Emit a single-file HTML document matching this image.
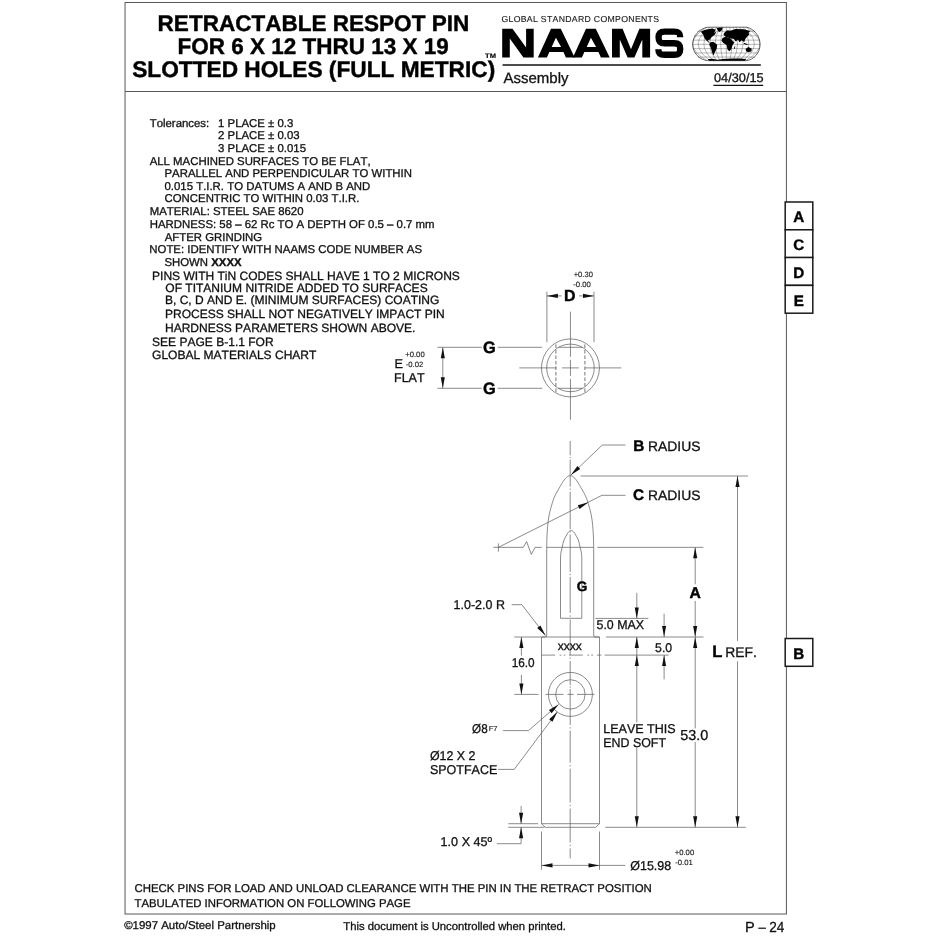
<!DOCTYPE html>
<html><head><meta charset="utf-8"><title>NAAMS Retractable Respot Pin</title>
<style>
html,body{margin:0;padding:0;background:#fff;}
body{width:940px;height:940px;overflow:hidden;font-family:"Liberation Sans",sans-serif;}
svg{display:block;position:absolute;left:0;top:0;will-change:transform;}
svg text{font-family:"Liberation Sans",sans-serif;white-space:pre;font-kerning:none;text-rendering:geometricPrecision;}
</style></head><body>
<svg width="940" height="940" viewBox="0 0 940 940">
<rect x="0" y="0" width="940" height="940" fill="#fff"/>

<rect x="125.05" y="2.5" width="661.35" height="911.50" fill="none" stroke="#585858" stroke-width="1"/>
<line x1="125.05" y1="91.50" x2="786.40" y2="91.50" stroke="#585858" stroke-width="1" />
<text x="157.6" y="30.9" font-size="22.5" font-weight="bold" textLength="311.6" lengthAdjust="spacingAndGlyphs" fill="#000" stroke="#000" stroke-width="0.4" >RETRACTABLE RESPOT PIN</text>
<text x="177.6" y="53.7" font-size="22.5" font-weight="bold" textLength="271.2" lengthAdjust="spacingAndGlyphs" fill="#000" stroke="#000" stroke-width="0.4" >FOR 6 X 12 THRU 13 X 19</text>
<text x="132.2" y="76.6" font-size="22.5" font-weight="bold" textLength="363" lengthAdjust="spacingAndGlyphs" fill="#000" stroke="#000" stroke-width="0.4" >SLOTTED HOLES (FULL METRIC)</text>
<text x="485.1" y="57.7" font-size="6.5" font-weight="bold" textLength="10.9" lengthAdjust="spacingAndGlyphs" fill="#000" stroke="#000" stroke-width="0.15" >TM</text>
<text x="501.4" y="21.9" font-size="8.7" textLength="157.6" lengthAdjust="spacing" fill="#1a1a1a" stroke="#1a1a1a" stroke-width="0.12">GLOBAL STANDARD COMPONENTS</text>
<path fill="#000" d="M502.2,28.7 L512.5,28.7 L526.1,47.6 L526.1,28.7 L533.7,28.7 L533.7,57.4 L523.4,57.4 L509.8,38.5 L509.8,57.4 L502.2,57.4 Z"/>
<path fill="#000" fill-rule="evenodd" d="M551.0,28.7 L560.8,28.7 L574.7,57.4 L565.9,57.4 L563.44,52.0 L549.36,52.0 L546.9,57.4 L537.9,57.4 Z M555.90,37.68 L561.11,46.9 L551.69,46.9 Z"/>
<path fill="#000" fill-rule="evenodd" d="M586.0,28.7 L595.8,28.7 L609.7,57.4 L600.9,57.4 L598.44,52.0 L584.36,52.0 L581.9,57.4 L572.9,57.4 Z M590.90,37.68 L596.11,46.9 L586.69,46.9 Z"/>
<path fill="#000" d="M612.0,57.4 L612.0,28.7 L622.6,28.7 L631.0,49.2 L639.4,28.7 L650.1,28.7 L650.1,57.4 L642.3,57.4 L642.3,39.5 L634.4,57.4 L627.6,57.4 L619.8,39.5 L619.8,57.4 Z"/>
<path fill="none" stroke="#000" stroke-width="6.4" d="M680.2,37.2 C680.2,32.5 678.5,31.6 674,31.6 L664.6,31.6 C659.4,31.6 658.6,33.6 658.6,37.4 C658.6,41.4 659.6,43.3 664.6,43.3 L674.2,43.3 C678.8,43.3 680.2,45 680.2,49 C680.2,53 678.8,54.8 674.2,54.8 L664.4,54.8 C659.6,54.8 658.4,53.4 658.4,49.2"/>
<line x1="502.60" y1="65.10" x2="760.80" y2="65.10" stroke="#111" stroke-width="1.5" />
<text x="503.5" y="82.8" font-size="15" fill="#111" stroke="#111" stroke-width="0.3" >Assembly</text>
<text x="714.0" y="81.6" font-size="12.7" textLength="49.6" lengthAdjust="spacingAndGlyphs" fill="#111" stroke="#111" stroke-width="0.3" >04/30/15</text>
<line x1="713.40" y1="85.40" x2="763.20" y2="85.40" stroke="#111" stroke-width="1.2" />
<g id="globe" transform="translate(685,15) scale(0.09043)">
<path d="M250,135 L680,135 C760,150 830,230 830,325 C830,420 760,495 680,505 L250,505 C160,495 85,420 85,325 C85,230 160,150 250,135 Z" fill="#fff" stroke="#111" stroke-width="7"/>
<line x1="136" y1="180" x2="778" y2="180" stroke="#222" stroke-width="3.6"/>
<line x1="102" y1="230" x2="812" y2="230" stroke="#222" stroke-width="3.6"/>
<line x1="88" y1="278" x2="826" y2="278" stroke="#222" stroke-width="3.6"/>
<line x1="85" y1="325" x2="829" y2="325" stroke="#222" stroke-width="3.6"/>
<line x1="90" y1="372" x2="824" y2="372" stroke="#222" stroke-width="3.6"/>
<line x1="107" y1="420" x2="807" y2="420" stroke="#222" stroke-width="3.6"/>
<line x1="141" y1="465" x2="773" y2="465" stroke="#222" stroke-width="3.6"/>
<path d="M242,135 Q-72,320 242,505" fill="none" stroke="#222" stroke-width="3.6"/>
<path d="M278,135 Q16,320 278,505" fill="none" stroke="#222" stroke-width="3.6"/>
<path d="M314,135 Q104,320 314,505" fill="none" stroke="#222" stroke-width="3.6"/>
<path d="M350,135 Q192,320 350,505" fill="none" stroke="#222" stroke-width="3.6"/>
<path d="M385,135 Q281,320 385,505" fill="none" stroke="#222" stroke-width="3.6"/>
<path d="M421,135 Q369,320 421,505" fill="none" stroke="#222" stroke-width="3.6"/>
<line x1="457" y1="135" x2="457" y2="505" stroke="#222" stroke-width="3.6"/>
<path d="M493,135 Q545,320 493,505" fill="none" stroke="#222" stroke-width="3.6"/>
<path d="M529,135 Q633,320 529,505" fill="none" stroke="#222" stroke-width="3.6"/>
<path d="M564,135 Q722,320 564,505" fill="none" stroke="#222" stroke-width="3.6"/>
<path d="M600,135 Q810,320 600,505" fill="none" stroke="#222" stroke-width="3.6"/>
<path d="M636,135 Q898,320 636,505" fill="none" stroke="#222" stroke-width="3.6"/>
<path d="M672,135 Q986,320 672,505" fill="none" stroke="#222" stroke-width="3.6"/>
<path d="M175,185 L215,165 L300,150 L340,162 L322,198 L348,182 L332,216 L292,246 L277,270 L252,278 L268,300 L285,305 L262,305 L240,286 L215,256 L200,216 Z" fill="#000"/>
<path d="M350,145 L420,138 L405,172 L378,188 L360,170 Z" fill="#000"/>
<path d="M275,305 L312,295 L356,330 L350,372 L326,420 L316,448 L302,420 L286,362 L270,330 Z" fill="#000"/>
<path d="M440,190 L470,170 L500,175 L560,155 L650,158 L722,176 L702,200 L712,215 L692,236 L668,262 L655,298 L640,290 L628,278 L602,302 L586,270 L562,292 L540,266 L500,256 L470,250 L440,236 L425,214 Z" fill="#000"/>
<path d="M415,255 L446,240 L500,256 L530,290 L548,300 L526,332 L512,380 L490,402 L470,382 L460,332 L420,306 L404,282 Z" fill="#000"/>
<path d="M670,376 L700,354 L736,370 L736,400 L702,412 L676,402 Z" fill="#000"/>
<path d="M648,308 L682,318 L700,332 L676,330 L652,320 Z" fill="#000"/>
<path d="M545,350 L555,345 L552,372 L542,376 Z" fill="#000"/>
<path d="M250,490 L300,484 L360,494 L420,486 L520,480 L620,482 L680,490 L660,505 L270,505 Z" fill="#000"/>
</g>
<rect x="785.2" y="202.0" width="27.6" height="27.8" fill="#fff" stroke="#1a1a1a" stroke-width="1.5"/>
<text x="798.8" y="222.4" font-size="15.2" font-weight="bold" text-anchor="middle" fill="#000" stroke="#000" stroke-width="0.4" >A</text>
<rect x="785.2" y="229.8" width="27.6" height="27.8" fill="#fff" stroke="#1a1a1a" stroke-width="1.5"/>
<text x="798.8" y="250.20000000000002" font-size="15.2" font-weight="bold" text-anchor="middle" fill="#000" stroke="#000" stroke-width="0.4" >C</text>
<rect x="785.2" y="257.5" width="27.6" height="27.8" fill="#fff" stroke="#1a1a1a" stroke-width="1.5"/>
<text x="798.8" y="277.9" font-size="15.2" font-weight="bold" text-anchor="middle" fill="#000" stroke="#000" stroke-width="0.4" >D</text>
<rect x="785.2" y="285.4" width="27.6" height="27.8" fill="#fff" stroke="#1a1a1a" stroke-width="1.5"/>
<text x="798.8" y="305.79999999999995" font-size="15.2" font-weight="bold" text-anchor="middle" fill="#000" stroke="#000" stroke-width="0.4" >E</text>
<rect x="785.2" y="638.5" width="27.6" height="27.8" fill="#fff" stroke="#1a1a1a" stroke-width="1.5"/>
<text x="798.8" y="658.9" font-size="15.2" font-weight="bold" text-anchor="middle" fill="#000" stroke="#000" stroke-width="0.4" >B</text>
<text x="149.7" y="126.7" font-size="11.4" fill="#111" stroke="#111" stroke-width="0.3" >Tolerances:</text>
<text x="218.1" y="126.7" font-size="11.4" fill="#111" stroke="#111" stroke-width="0.3" >1 PLACE ± 0.3</text>
<text x="218.1" y="139.3" font-size="11.4" fill="#111" stroke="#111" stroke-width="0.3" >2 PLACE ± 0.03</text>
<text x="218.1" y="151.9" font-size="11.4" fill="#111" stroke="#111" stroke-width="0.3" >3 PLACE ± 0.015</text>
<text x="149.7" y="164.5" font-size="11.4" fill="#111" stroke="#111" stroke-width="0.3" >ALL MACHINED SURFACES TO BE FLAT,</text>
<text x="164.5" y="177.2" font-size="11.4" fill="#111" stroke="#111" stroke-width="0.3" >PARALLEL AND PERPENDICULAR TO WITHIN</text>
<text x="164.5" y="189.7" font-size="11.4" fill="#111" stroke="#111" stroke-width="0.3" >0.015 T.I.R. TO DATUMS A AND B AND</text>
<text x="164.5" y="202.4" font-size="11.4" fill="#111" stroke="#111" stroke-width="0.3" >CONCENTRIC TO WITHIN 0.03 T.I.R.</text>
<text x="149.7" y="214.9" font-size="11.4" fill="#111" stroke="#111" stroke-width="0.3" >MATERIAL: STEEL SAE 8620</text>
<text x="149.7" y="227.5" font-size="11.4" fill="#111" stroke="#111" stroke-width="0.3" >HARDNESS: 58 – 62 Rc TO A DEPTH OF 0.5 – 0.7 mm</text>
<text x="164.7" y="240.7" font-size="11.4" fill="#111" stroke="#111" stroke-width="0.3" >AFTER GRINDING</text>
<text x="149.3" y="252.9" font-size="11.4" fill="#111" stroke="#111" stroke-width="0.3" >NOTE: IDENTIFY WITH NAAMS CODE NUMBER AS</text>
<text x="164.4" y="265.6" font-size="11.4" fill="#111" stroke="#111" stroke-width="0.3" >SHOWN <tspan font-weight='bold'>XXXX</tspan></text>
<text x="152.1" y="279.7" font-size="12.03" fill="#111" stroke="#111" stroke-width="0.3" >PINS WITH TiN CODES SHALL HAVE 1 TO 2 MICRONS</text>
<text x="165.3" y="292.2" font-size="12.03" fill="#111" stroke="#111" stroke-width="0.3" >OF TITANIUM NITRIDE ADDED TO SURFACES</text>
<text x="165.0" y="303.6" font-size="12.03" fill="#111" stroke="#111" stroke-width="0.3" >B, C, D AND E. (MINIMUM SURFACES) COATING</text>
<text x="165.0" y="317.6" font-size="12.03" fill="#111" stroke="#111" stroke-width="0.3" >PROCESS SHALL NOT NEGATIVELY IMPACT PIN</text>
<text x="165.0" y="332.0" font-size="12.03" fill="#111" stroke="#111" stroke-width="0.3" >HARDNESS PARAMETERS SHOWN ABOVE.</text>
<text x="152.1" y="345.5" font-size="12.03" fill="#111" stroke="#111" stroke-width="0.3" >SEE PAGE B-1.1 FOR</text>
<text x="152.1" y="358.5" font-size="12.03" fill="#111" stroke="#111" stroke-width="0.3" >GLOBAL MATERIALS CHART</text>
<text x="134.5" y="891.6" font-size="11.35" textLength="517.3" lengthAdjust="spacingAndGlyphs" fill="#111" stroke="#111" stroke-width="0.3" >CHECK PINS FOR LOAD AND UNLOAD CLEARANCE WITH THE PIN IN THE RETRACT POSITION</text>
<text x="134.5" y="907.1" font-size="11.35" textLength="276" lengthAdjust="spacingAndGlyphs" fill="#111" stroke="#111" stroke-width="0.3" >TABULATED INFORMATION ON FOLLOWING PAGE</text>
<text x="124.2" y="929.3" font-size="11.35" textLength="151.5" lengthAdjust="spacingAndGlyphs" fill="#111" stroke="#111" stroke-width="0.3" >©1997 Auto/Steel Partnership</text>
<text x="343.3" y="929.6" font-size="11.35" textLength="222.6" lengthAdjust="spacingAndGlyphs" fill="#111" stroke="#111" stroke-width="0.3" >This document is Uncontrolled when printed.</text>
<text x="744.9" y="931.9" font-size="14.6" fill="#111" stroke="#111" stroke-width="0.3" >P</text>
<text x="758.5" y="931.9" font-size="14.6" textLength="7.3" lengthAdjust="spacingAndGlyphs" fill="#111" stroke="#111" stroke-width="0.3" >–</text>
<text x="769.3" y="931.9" font-size="14.6" textLength="15.1" lengthAdjust="spacingAndGlyphs" fill="#111" stroke="#111" stroke-width="0.3" >24</text>
<circle cx="570.45" cy="367.9" r="29.0" fill="none" stroke="#5e5e5e" stroke-width="0.72"/>
<circle cx="570.45" cy="367.9" r="23.8" fill="none" stroke="#5e5e5e" stroke-width="0.72"/>
<line x1="558.53" y1="347.30" x2="582.37" y2="347.30" stroke="#5e5e5e" stroke-width="0.72" />
<line x1="558.19" y1="388.30" x2="582.71" y2="388.30" stroke="#5e5e5e" stroke-width="0.72" />
<line x1="555.90" y1="344.40" x2="555.90" y2="392.00" stroke="#777" stroke-width="1.0" stroke-dasharray="3.6 1.9"/>
<line x1="584.90" y1="344.40" x2="584.90" y2="392.00" stroke="#777" stroke-width="1.0" stroke-dasharray="3.6 1.9"/>
<line x1="570.45" y1="311.70" x2="570.45" y2="356.80" stroke="#5e5e5e" stroke-width="0.72" />
<line x1="570.45" y1="359.80" x2="570.45" y2="376.00" stroke="#5e5e5e" stroke-width="0.72" />
<line x1="570.45" y1="379.00" x2="570.45" y2="419.70" stroke="#5e5e5e" stroke-width="0.72" />
<line x1="519.30" y1="367.90" x2="556.40" y2="367.90" stroke="#5e5e5e" stroke-width="0.72" />
<line x1="562.10" y1="367.90" x2="578.80" y2="367.90" stroke="#5e5e5e" stroke-width="0.72" />
<line x1="585.00" y1="367.90" x2="621.30" y2="367.90" stroke="#5e5e5e" stroke-width="0.72" />
<line x1="546.90" y1="291.70" x2="546.90" y2="342.20" stroke="#5e5e5e" stroke-width="0.72" />
<line x1="594.00" y1="291.70" x2="594.00" y2="342.20" stroke="#5e5e5e" stroke-width="0.72" />
<line x1="546.90" y1="295.90" x2="561.80" y2="295.90" stroke="#5e5e5e" stroke-width="0.72" />
<line x1="579.10" y1="295.90" x2="594.00" y2="295.90" stroke="#5e5e5e" stroke-width="0.72" />
<polygon points="546.90,295.90 557.90,293.85 557.90,297.95" fill="#111"/>
<polygon points="594.00,295.90 583.00,297.95 583.00,293.85" fill="#111"/>
<text x="569.75" y="300.9" font-size="15.9" font-weight="bold" text-anchor="middle" fill="#000" stroke="#000" stroke-width="0.4" >D</text>
<text x="573.7" y="276.8" font-size="7.7" textLength="19.2" lengthAdjust="spacingAndGlyphs" fill="#222" stroke="#222" stroke-width="0.15" >+0.30</text>
<text x="573.3" y="287.4" font-size="7.7" textLength="17.6" lengthAdjust="spacingAndGlyphs" fill="#222" stroke="#222" stroke-width="0.15" >-0.00</text>
<line x1="437.40" y1="347.30" x2="481.80" y2="347.30" stroke="#5e5e5e" stroke-width="0.72" />
<line x1="497.70" y1="347.30" x2="542.20" y2="347.30" stroke="#5e5e5e" stroke-width="0.72" />
<line x1="437.40" y1="388.30" x2="481.80" y2="388.30" stroke="#5e5e5e" stroke-width="0.72" />
<line x1="497.70" y1="388.30" x2="542.20" y2="388.30" stroke="#5e5e5e" stroke-width="0.72" />
<text x="483.1" y="353.3" font-size="16.4" font-weight="bold" fill="#000" stroke="#000" stroke-width="0.4" >G</text>
<text x="483.1" y="394.1" font-size="16.4" font-weight="bold" fill="#000" stroke="#000" stroke-width="0.4" >G</text>
<line x1="442.80" y1="347.30" x2="442.80" y2="388.30" stroke="#5e5e5e" stroke-width="0.72" />
<polygon points="442.80,347.30 444.85,358.30 440.75,358.30" fill="#111"/>
<polygon points="442.80,388.30 440.75,377.30 444.85,377.30" fill="#111"/>
<text x="394.4" y="368.1" font-size="12.8" textLength="8.5" lengthAdjust="spacingAndGlyphs" fill="#111" stroke="#111" stroke-width="0.3" >E</text>
<text x="394.0" y="381.9" font-size="12.8" textLength="30.6" lengthAdjust="spacingAndGlyphs" fill="#111" stroke="#111" stroke-width="0.3" >FLAT</text>
<text x="405.2" y="357.1" font-size="7.7" textLength="19.5" lengthAdjust="spacingAndGlyphs" fill="#222" stroke="#222" stroke-width="0.15" >+0.00</text>
<text x="405.7" y="367.3" font-size="7.7" textLength="17.6" lengthAdjust="spacingAndGlyphs" fill="#222" stroke="#222" stroke-width="0.15" >-0.02</text>
<line x1="570.20" y1="440.90" x2="570.20" y2="455.30" stroke="#5e5e5e" stroke-width="0.72" />
<line x1="570.20" y1="456.90" x2="570.20" y2="458.10" stroke="#5e5e5e" stroke-width="0.72" />
<line x1="570.20" y1="459.60" x2="570.20" y2="486.70" stroke="#5e5e5e" stroke-width="0.72" />
<line x1="570.20" y1="488.50" x2="570.20" y2="489.90" stroke="#5e5e5e" stroke-width="0.72" />
<line x1="570.20" y1="491.80" x2="570.20" y2="529.30" stroke="#5e5e5e" stroke-width="0.72" />
<line x1="570.20" y1="531.20" x2="570.20" y2="532.60" stroke="#5e5e5e" stroke-width="0.72" />
<line x1="570.20" y1="534.40" x2="570.20" y2="571.90" stroke="#5e5e5e" stroke-width="0.72" />
<line x1="570.20" y1="573.80" x2="570.20" y2="575.20" stroke="#5e5e5e" stroke-width="0.72" />
<line x1="570.20" y1="577.00" x2="570.20" y2="612.80" stroke="#5e5e5e" stroke-width="0.72" />
<line x1="570.20" y1="615.40" x2="570.20" y2="616.80" stroke="#5e5e5e" stroke-width="0.72" />
<line x1="570.20" y1="619.60" x2="570.20" y2="655.40" stroke="#5e5e5e" stroke-width="0.72" />
<line x1="570.20" y1="657.50" x2="570.20" y2="658.90" stroke="#5e5e5e" stroke-width="0.72" />
<line x1="570.20" y1="661.00" x2="570.20" y2="685.00" stroke="#5e5e5e" stroke-width="0.72" />
<line x1="570.20" y1="686.40" x2="570.20" y2="687.70" stroke="#5e5e5e" stroke-width="0.72" />
<line x1="570.20" y1="689.00" x2="570.20" y2="725.00" stroke="#5e5e5e" stroke-width="0.72" />
<line x1="570.20" y1="727.20" x2="570.20" y2="728.60" stroke="#5e5e5e" stroke-width="0.72" />
<line x1="570.20" y1="730.70" x2="570.20" y2="762.70" stroke="#5e5e5e" stroke-width="0.72" />
<line x1="570.20" y1="765.00" x2="570.20" y2="766.40" stroke="#5e5e5e" stroke-width="0.72" />
<line x1="570.20" y1="768.70" x2="570.20" y2="802.50" stroke="#5e5e5e" stroke-width="0.72" />
<line x1="570.20" y1="804.80" x2="570.20" y2="806.20" stroke="#5e5e5e" stroke-width="0.72" />
<line x1="570.20" y1="808.50" x2="570.20" y2="842.50" stroke="#5e5e5e" stroke-width="0.72" />
<line x1="570.20" y1="844.70" x2="570.20" y2="846.10" stroke="#5e5e5e" stroke-width="0.72" />
<line x1="570.20" y1="848.30" x2="570.20" y2="858.40" stroke="#5e5e5e" stroke-width="0.72" />
<path d="M546.7,635.8 L546.7,547.35" fill="none" stroke="#5e5e5e" stroke-width="0.72"/>
<path d="M546.70,547.40 C546.75,545.50 546.83,539.63 547.00,536.00 C547.17,532.37 547.40,528.77 547.70,525.60 C548.00,522.43 548.38,519.52 548.80,517.00 C549.22,514.48 549.53,513.10 550.20,510.50 C550.87,507.90 551.97,503.93 552.80,501.40 C553.63,498.87 554.05,497.67 555.20,495.30 C556.35,492.93 558.67,489.05 559.70,487.20 C560.73,485.35 560.75,485.27 561.40,484.20 C562.05,483.13 562.90,481.80 563.60,480.80 C564.30,479.80 564.97,478.90 565.60,478.20 C566.23,477.50 566.85,476.99 567.40,476.60 C567.95,476.21 568.43,476.00 568.90,475.85 C569.37,475.70 569.77,475.70 570.20,475.70 C570.63,475.70 571.03,475.70 571.50,475.85 C571.97,476.00 572.45,476.21 573.00,476.60 C573.55,476.99 574.17,477.50 574.80,478.20 C575.43,478.90 576.10,479.80 576.80,480.80 C577.50,481.80 578.35,483.13 579.00,484.20 C579.65,485.27 579.67,485.35 580.70,487.20 C581.73,489.05 584.05,492.93 585.20,495.30 C586.35,497.67 586.77,498.87 587.60,501.40 C588.43,503.93 589.53,507.90 590.20,510.50 C590.87,513.10 591.18,514.48 591.60,517.00 C592.02,519.52 592.40,522.43 592.70,525.60 C593.00,528.77 593.23,532.37 593.40,536.00 C593.57,539.63 593.65,545.50 593.70,547.40" fill="none" stroke="#5e5e5e" stroke-width="0.72"/>
<path d="M593.7,547.35 L593.7,635.8" fill="none" stroke="#5e5e5e" stroke-width="0.72"/>
<path d="M546.7,635.5 Q546.7,637.0 545.2,637.0 L541.5,637.0 L541.5,823.7 L545.3,827.3 L595.7,827.3 L599.5,823.7 L599.5,637.0 L595.2,637.0 Q593.7,637.0 593.7,635.5" fill="none" stroke="#5e5e5e" stroke-width="0.72"/>
<line x1="541.50" y1="637.00" x2="599.50" y2="637.00" stroke="#5e5e5e" stroke-width="0.72" />
<line x1="541.50" y1="823.70" x2="599.50" y2="823.70" stroke="#5e5e5e" stroke-width="0.72" />
<path d="M560.5,558 L560.5,618.3 L581.8,618.3 L581.8,558" fill="none" stroke="#5e5e5e" stroke-width="0.72"/>
<path d="M560.50,558.00 C560.52,557.52 560.52,556.27 560.65,555.10 C560.77,553.93 561.00,552.27 561.25,551.00 C561.50,549.73 561.87,548.75 562.15,547.50 C562.43,546.25 562.63,544.78 562.95,543.50 C563.27,542.22 563.57,540.98 564.05,539.80 C564.53,538.62 565.30,537.42 565.85,536.40 C566.40,535.38 566.88,534.45 567.35,533.70 C567.82,532.95 568.22,532.38 568.65,531.90 C569.08,531.42 569.53,531.09 569.95,530.85 C570.37,530.61 570.75,530.45 571.15,530.45 C571.55,530.45 571.93,530.61 572.35,530.85 C572.77,531.09 573.22,531.42 573.65,531.90 C574.08,532.38 574.48,532.95 574.95,533.70 C575.42,534.45 575.90,535.38 576.45,536.40 C577.00,537.42 577.77,538.62 578.25,539.80 C578.73,540.98 579.03,542.22 579.35,543.50 C579.67,544.78 579.87,546.25 580.15,547.50 C580.43,548.75 580.80,549.73 581.05,551.00 C581.30,552.27 581.52,553.93 581.65,555.10 C581.77,556.27 581.77,557.52 581.80,558.00" fill="none" stroke="#5e5e5e" stroke-width="0.72"/>
<text x="576.7" y="590.9" font-size="13.6" font-weight="bold" fill="#000" stroke="#000" stroke-width="0.4" >G</text>
<text x="557.7" y="649.6" font-size="11.8" textLength="24.2" lengthAdjust="spacingAndGlyphs" fill="#111" stroke="#111" stroke-width="0.3" >xxxx</text>
<line x1="541.50" y1="655.10" x2="601.50" y2="655.10" stroke="#5e5e5e" stroke-width="0.72" stroke-dasharray="13.6 4.5 1.8 2.2 1.8 3.8"/>
<circle cx="570.4" cy="694.4" r="22.0" fill="none" stroke="#5e5e5e" stroke-width="0.72"/>
<circle cx="570.4" cy="694.4" r="14.7" fill="none" stroke="#5e5e5e" stroke-width="0.72"/>
<line x1="545.60" y1="694.40" x2="563.50" y2="694.40" stroke="#5e5e5e" stroke-width="0.72" />
<line x1="567.50" y1="694.40" x2="573.60" y2="694.40" stroke="#5e5e5e" stroke-width="0.72" />
<line x1="577.00" y1="694.40" x2="594.60" y2="694.40" stroke="#5e5e5e" stroke-width="0.72" />
<line x1="493.30" y1="547.35" x2="523.30" y2="547.35" stroke="#5e5e5e" stroke-width="0.72" />
<polyline points="523.30,547.35 526.60,541.60 531.30,554.40 535.00,547.35 541.80,547.35" fill="none" stroke="#5e5e5e" stroke-width="0.72" />
<line x1="546.70" y1="547.35" x2="593.70" y2="547.35" stroke="#5e5e5e" stroke-width="0.72" />
<line x1="597.30" y1="547.35" x2="703.40" y2="547.35" stroke="#5e5e5e" stroke-width="0.72" />
<line x1="498.40" y1="543.40" x2="498.40" y2="551.70" stroke="#5e5e5e" stroke-width="0.72" />
<polyline points="498.40,547.35 602.00,495.30 625.50,495.30" fill="none" stroke="#5e5e5e" stroke-width="0.72" />
<polygon points="588.50,502.20 579.58,508.96 577.75,505.30" fill="#111"/>
<text x="633.0" y="500.1" font-size="15.3" font-weight="bold" fill="#000" stroke="#000" stroke-width="0.4" >C</text>
<text x="648.0" y="500.1" font-size="13.7" textLength="52.4" lengthAdjust="spacingAndGlyphs" fill="#111" stroke="#111" stroke-width="0.3" >RADIUS</text>
<polyline points="570.90,475.10 602.30,445.00 625.50,445.00" fill="none" stroke="#5e5e5e" stroke-width="0.72" />
<polygon points="570.90,475.10 577.42,466.01 580.26,468.97" fill="#111"/>
<text x="633.2" y="450.5" font-size="15.3" font-weight="bold" fill="#000" stroke="#000" stroke-width="0.4" >B</text>
<text x="648.0" y="450.5" font-size="13.7" textLength="52.4" lengthAdjust="spacingAndGlyphs" fill="#111" stroke="#111" stroke-width="0.3" >RADIUS</text>
<line x1="580.70" y1="476.00" x2="747.90" y2="476.00" stroke="#5e5e5e" stroke-width="0.72" />
<line x1="737.50" y1="476.00" x2="737.50" y2="640.90" stroke="#5e5e5e" stroke-width="0.72" />
<line x1="737.50" y1="661.30" x2="737.50" y2="827.30" stroke="#5e5e5e" stroke-width="0.72" />
<polygon points="737.50,476.00 739.55,487.00 735.45,487.00" fill="#111"/>
<polygon points="737.50,827.30 735.45,816.30 739.55,816.30" fill="#111"/>
<text x="712.3" y="656.9" font-size="16.6" font-weight="bold" fill="#000" stroke="#000" stroke-width="0.4" >L</text>
<text x="725.3" y="656.9" font-size="14" textLength="31.6" lengthAdjust="spacingAndGlyphs" fill="#111" stroke="#111" stroke-width="0.3" >REF.</text>
<line x1="695.20" y1="547.35" x2="695.20" y2="584.30" stroke="#5e5e5e" stroke-width="0.72" />
<line x1="695.20" y1="600.90" x2="695.20" y2="637.00" stroke="#5e5e5e" stroke-width="0.72" />
<polygon points="695.20,547.35 697.25,558.35 693.15,558.35" fill="#111"/>
<polygon points="695.20,637.00 693.15,626.00 697.25,626.00" fill="#111"/>
<text x="695.2" y="597.7" font-size="15.7" font-weight="bold" text-anchor="middle" fill="#000" stroke="#000" stroke-width="0.4" >A</text>
<line x1="695.20" y1="637.00" x2="695.20" y2="728.50" stroke="#5e5e5e" stroke-width="0.72" />
<line x1="695.20" y1="741.90" x2="695.20" y2="827.30" stroke="#5e5e5e" stroke-width="0.72" />
<polygon points="695.20,637.00 697.25,648.00 693.15,648.00" fill="#111"/>
<polygon points="695.20,827.30 693.15,816.30 697.25,816.30" fill="#111"/>
<text x="680.2" y="739.8" font-size="14.5" textLength="28.0" lengthAdjust="spacingAndGlyphs" fill="#111" stroke="#111" stroke-width="0.3" >53.0</text>
<line x1="606.00" y1="637.00" x2="703.50" y2="637.00" stroke="#5e5e5e" stroke-width="0.72" />
<line x1="604.60" y1="655.10" x2="668.60" y2="655.10" stroke="#5e5e5e" stroke-width="0.72" />
<line x1="595.20" y1="618.40" x2="648.30" y2="618.40" stroke="#5e5e5e" stroke-width="0.72" />
<text x="596.5" y="629.4" font-size="12.8" textLength="47.5" lengthAdjust="spacingAndGlyphs" fill="#111" stroke="#111" stroke-width="0.3" >5.0 MAX</text>
<line x1="636.80" y1="592.80" x2="636.80" y2="618.40" stroke="#5e5e5e" stroke-width="0.72" />
<polygon points="636.80,618.40 634.75,607.40 638.85,607.40" fill="#111"/>
<line x1="636.80" y1="637.00" x2="636.80" y2="655.10" stroke="#5e5e5e" stroke-width="0.72" />
<polygon points="636.80,637.00 638.85,648.00 634.75,648.00" fill="#111"/>
<line x1="636.80" y1="655.10" x2="636.80" y2="722.30" stroke="#5e5e5e" stroke-width="0.72" />
<line x1="636.80" y1="747.80" x2="636.80" y2="827.30" stroke="#5e5e5e" stroke-width="0.72" />
<polygon points="636.80,655.10 638.85,666.10 634.75,666.10" fill="#111"/>
<polygon points="636.80,827.30 634.75,816.30 638.85,816.30" fill="#111"/>
<text x="603.3" y="732.8" font-size="12.8" textLength="72.2" lengthAdjust="spacingAndGlyphs" fill="#111" stroke="#111" stroke-width="0.3" >LEAVE THIS</text>
<text x="603.3" y="747.0" font-size="12.8" textLength="62.7" lengthAdjust="spacingAndGlyphs" fill="#111" stroke="#111" stroke-width="0.3" >END SOFT</text>
<line x1="664.10" y1="613.60" x2="664.10" y2="637.00" stroke="#5e5e5e" stroke-width="0.72" />
<polygon points="664.10,637.00 662.05,626.00 666.15,626.00" fill="#111"/>
<line x1="664.10" y1="655.10" x2="664.10" y2="679.40" stroke="#5e5e5e" stroke-width="0.72" />
<polygon points="664.10,655.10 666.15,666.10 662.05,666.10" fill="#111"/>
<text x="655.1" y="651.5" font-size="12.8" textLength="17.1" lengthAdjust="spacingAndGlyphs" fill="#111" stroke="#111" stroke-width="0.3" >5.0</text>
<line x1="605.30" y1="827.30" x2="745.80" y2="827.30" stroke="#5e5e5e" stroke-width="0.72" />
<line x1="514.30" y1="637.00" x2="541.50" y2="637.00" stroke="#5e5e5e" stroke-width="0.72" />
<line x1="514.30" y1="694.40" x2="538.50" y2="694.40" stroke="#5e5e5e" stroke-width="0.72" />
<line x1="521.40" y1="637.00" x2="521.40" y2="655.70" stroke="#5e5e5e" stroke-width="0.72" />
<line x1="521.40" y1="674.90" x2="521.40" y2="694.40" stroke="#5e5e5e" stroke-width="0.72" />
<polygon points="521.40,637.00 523.45,648.00 519.35,648.00" fill="#111"/>
<polygon points="521.40,694.40 519.35,683.40 523.45,683.40" fill="#111"/>
<text x="511.7" y="666.7" font-size="12.8" textLength="23" lengthAdjust="spacingAndGlyphs" fill="#111" stroke="#111" stroke-width="0.3" >16.0</text>
<text x="453.6" y="609.4" font-size="12.8" textLength="51.3" lengthAdjust="spacingAndGlyphs" fill="#111" stroke="#111" stroke-width="0.3" >1.0-2.0 R</text>
<polyline points="511.70,604.70 521.90,604.70 545.50,635.50" fill="none" stroke="#5e5e5e" stroke-width="0.72" />
<polygon points="545.50,635.50 537.18,628.02 540.44,625.52" fill="#111"/>
<text x="472.1" y="732.9" font-size="12.8" textLength="15.6" lengthAdjust="spacingAndGlyphs" fill="#111" stroke="#111" stroke-width="0.3" >Ø8</text>
<text x="488.7" y="730.7" font-size="7.0" textLength="8.8" lengthAdjust="spacingAndGlyphs" fill="#222" stroke="#222" stroke-width="0.15" >F7</text>
<polyline points="503.10,730.60 528.50,730.60 558.60,704.40" fill="none" stroke="#5e5e5e" stroke-width="0.72" />
<polygon points="558.60,704.40 551.65,713.17 548.96,710.08" fill="#111"/>
<text x="429.9" y="760.0" font-size="12.8" textLength="45.5" lengthAdjust="spacingAndGlyphs" fill="#111" stroke="#111" stroke-width="0.3" >Ø12 X 2</text>
<text x="429.9" y="773.5" font-size="12.8" textLength="67.4" lengthAdjust="spacingAndGlyphs" fill="#111" stroke="#111" stroke-width="0.3" >SPOTFACE</text>
<polyline points="498.10,769.40 514.20,769.40 557.40,711.80" fill="none" stroke="#5e5e5e" stroke-width="0.72" />
<polygon points="557.40,711.80 552.44,721.83 549.16,719.37" fill="#111"/>
<line x1="508.30" y1="823.70" x2="538.20" y2="823.70" stroke="#5e5e5e" stroke-width="0.72" />
<line x1="508.30" y1="827.30" x2="544.50" y2="827.30" stroke="#5e5e5e" stroke-width="0.72" />
<line x1="521.10" y1="806.00" x2="521.10" y2="823.70" stroke="#5e5e5e" stroke-width="0.72" />
<polygon points="521.10,823.70 519.05,812.70 523.15,812.70" fill="#111"/>
<line x1="521.10" y1="827.30" x2="521.10" y2="843.70" stroke="#5e5e5e" stroke-width="0.72" />
<polygon points="521.10,827.30 523.15,838.30 519.05,838.30" fill="#111"/>
<line x1="496.80" y1="843.70" x2="521.10" y2="843.70" stroke="#5e5e5e" stroke-width="0.72" />
<text x="440.6" y="846.3" font-size="12.8" textLength="51.6" lengthAdjust="spacingAndGlyphs" fill="#111" stroke="#111" stroke-width="0.3" >1.0 X 45º</text>
<line x1="541.50" y1="831.50" x2="541.50" y2="869.80" stroke="#5e5e5e" stroke-width="0.72" />
<line x1="599.50" y1="831.50" x2="599.50" y2="869.80" stroke="#5e5e5e" stroke-width="0.72" />
<line x1="541.50" y1="865.40" x2="625.30" y2="865.40" stroke="#5e5e5e" stroke-width="0.72" />
<polygon points="541.50,865.40 552.50,863.35 552.50,867.45" fill="#111"/>
<polygon points="599.50,865.40 588.50,867.45 588.50,863.35" fill="#111"/>
<text x="630.3" y="869.8" font-size="12.8" textLength="40.9" lengthAdjust="spacingAndGlyphs" fill="#111" stroke="#111" stroke-width="0.3" >Ø15.98</text>
<text x="674.7" y="854.5" font-size="7.7" textLength="19.5" lengthAdjust="spacingAndGlyphs" fill="#222" stroke="#222" stroke-width="0.15" >+0.00</text>
<text x="675.2" y="864.7" font-size="7.7" textLength="17.6" lengthAdjust="spacingAndGlyphs" fill="#222" stroke="#222" stroke-width="0.15" >-0.01</text>
</svg></body></html>
